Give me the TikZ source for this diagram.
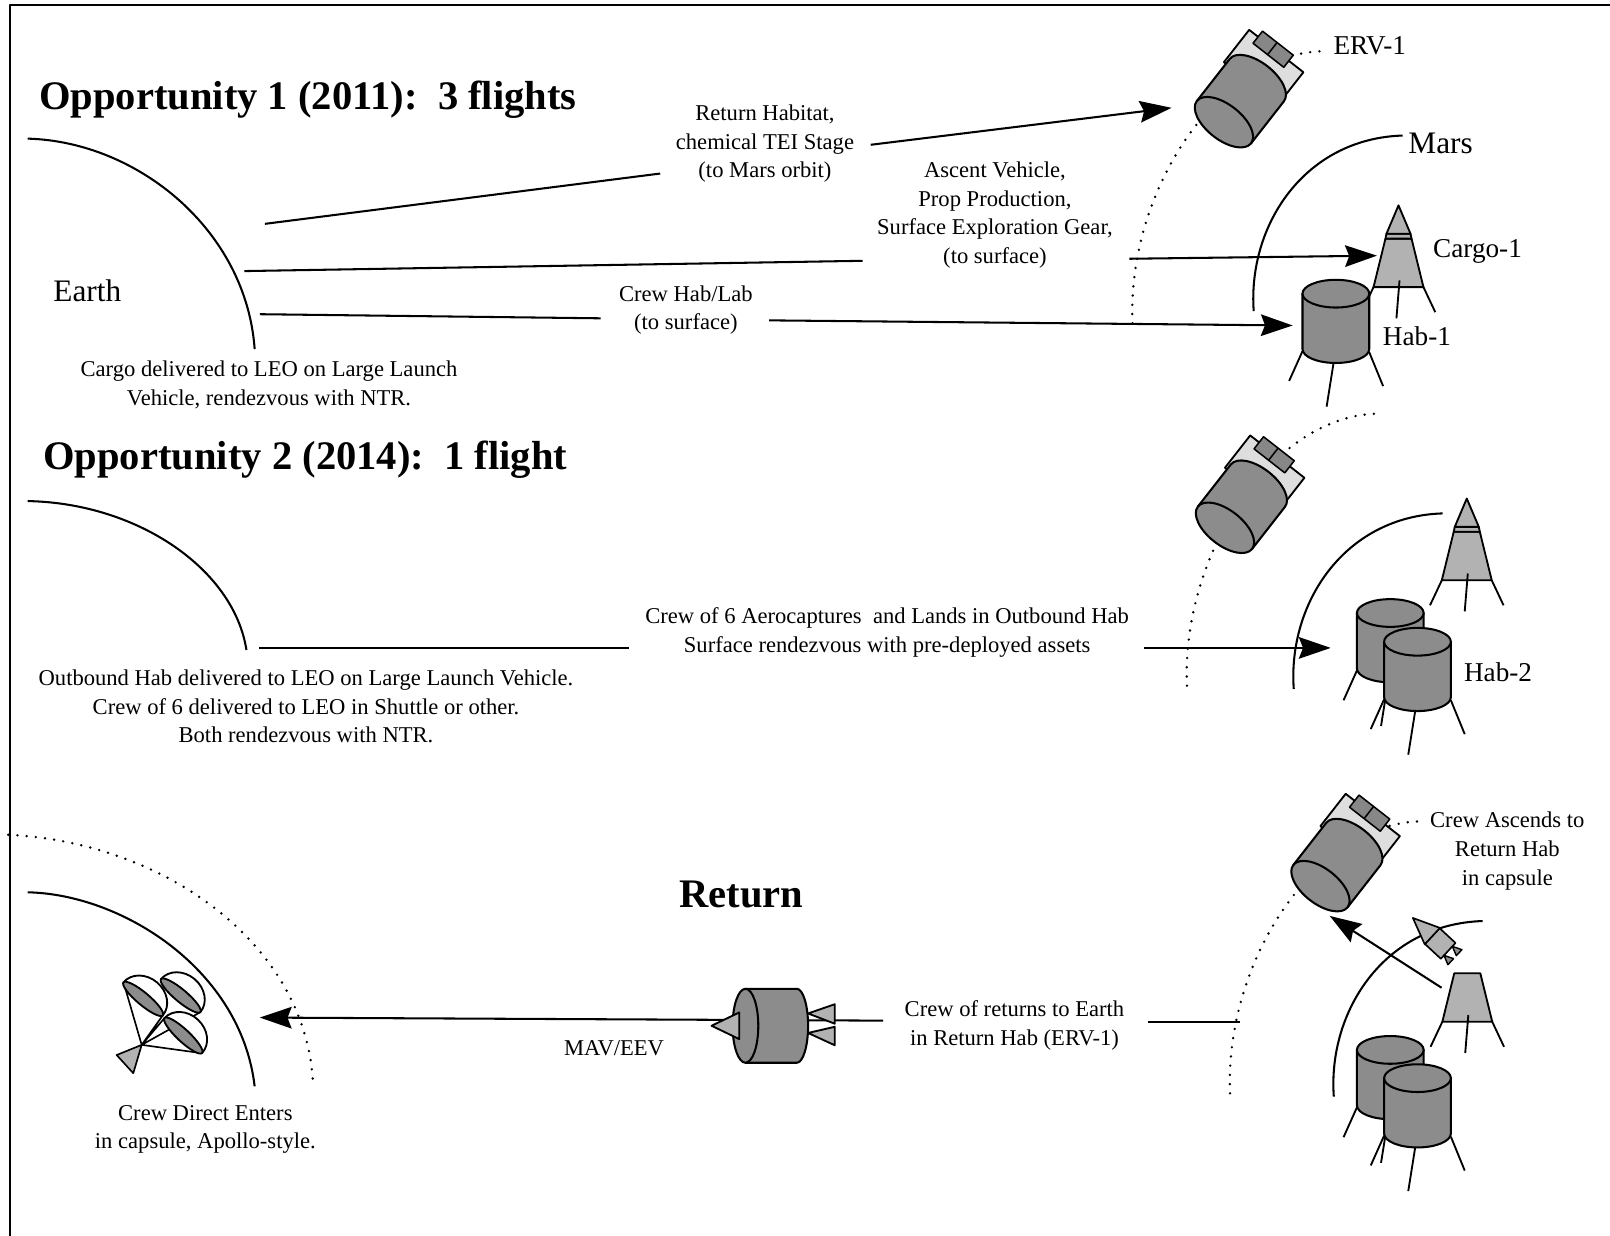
\documentclass[tikz,border=0pt]{standalone}
\usepackage{fontspec}
\setmainfont{Liberation Serif}
\usetikzlibrary{arrows.meta}
\definecolor{habgrey}{gray}{0.55}
\definecolor{cargogrey}{gray}{0.70}
\definecolor{boxgrey}{gray}{0.87}
\definecolor{panelgrey}{gray}{0.53}
\tikzset{
  habcyl/.pic={
    \draw[line width=1.8pt] (-32.5,56) -- (-45.5,85) (-2,66) -- (-9,110) (32.5,57) -- (46,90);
    \filldraw[fill=habgrey, line width=2pt] (-32.5,0) -- (-32.5,54) arc[start angle=180,end angle=0,x radius=32.5,y radius=13.5] -- (32.5,0) -- cycle;
    \filldraw[fill=habgrey, line width=2pt] (0,0) ellipse[x radius=32.5, y radius=13.5];
  },
  cargolander/.pic={
    \filldraw[fill=cargogrey, line width=1.8pt] (-12.7,32.4) -- (12.7,32.4) -- (24.3,79.6) -- (-24.3,79.6) -- cycle;
    \filldraw[fill=cargogrey, line width=1.8pt] (-11.7,27.6) -- (11.7,27.6) -- (12.7,32.4) -- (-12.7,32.4) -- cycle;
    \filldraw[fill=cargogrey, line width=1.8pt] (0,0) -- (11.7,27.6) -- (-11.7,27.6) -- cycle;
    \draw[line width=1.8pt] (-24.3,79.6) -- (-35.8,104) (1,73) -- (-2,110) (24.3,79.6) -- (35.8,104);
  },
  ascentbase/.pic={
    \filldraw[fill=cargogrey, line width=1.8pt] (-12.7,32.4) -- (12.7,32.4) -- (24.3,79.6) -- (-24.3,79.6) -- cycle;
    \draw[line width=1.8pt] (-24.3,79.6) -- (-35.8,104) (1,73) -- (-2,110) (24.3,79.6) -- (35.8,104);
  },
  ervcraft/.pic={
    \begin{scope}[rotate=52]
      \filldraw[fill=boxgrey, line width=1.8pt] (46,-36) rectangle (86,31);
      \filldraw[fill=panelgrey, line width=1.5pt] (78,-25) rectangle (93,13);
      \draw[line width=1.5pt] (78,-7) -- (93,-7);
      \filldraw[fill=habgrey, line width=2pt] (0,-33.5) -- (52,-33.5) arc[start angle=-90,end angle=90,x radius=17,y radius=33.5] -- (0,33.5) -- cycle;
      \filldraw[fill=habgrey, line width=2pt] (0,0) ellipse[x radius=17,y radius=33.5];
    \end{scope}
  },
  minicap/.pic={
    \begin{scope}[rotate=-43]
      \filldraw[fill=cargogrey, line width=1.6pt] (25.9,-10.5) rectangle (47,10.5);
      \filldraw[fill=cargogrey, line width=1.6pt] (0,0) -- (25.9,-10.9) -- (25.9,10.9) -- cycle;
      \filldraw[fill=habgrey, line width=1.4pt] (47,-6) -- (56,-10) -- (56,-2) -- cycle;
      \filldraw[fill=habgrey, line width=1.4pt] (47,6) -- (56,2) -- (56,10) -- cycle;
    \end{scope}
  },
  chute/.pic={
    \begin{scope}[rotate=-40]
      \filldraw[fill=white, line width=1.8pt] (-25,0) arc[start angle=180,end angle=360,x radius=25,y radius=21] -- cycle;
      \filldraw[fill=habgrey, line width=1.8pt] (0,0) ellipse[x radius=25,y radius=6];
    \end{scope}
  }
}
\begin{document}
\begin{tikzpicture}[x=1pt,y=-1pt, line join=round,
  conn/.style={line width=2pt},
  arr/.style={line width=2pt,-{Stealth[length=31pt,width=21pt,inset=4pt]}},
  orbit/.style={line width=2.6pt, dash pattern=on 0pt off 9pt, line cap=round},
  planet/.style={line width=2pt},
  small/.style={font=\fontsize{22}{28}\selectfont, align=center, inner sep=0pt},
  big/.style={font=\fontsize{26.5}{30}\selectfont, inner sep=0pt},
  bigger/.style={font=\fontsize{30.5}{34}\selectfont, inner sep=0pt},
  title/.style={font=\fontsize{39.5}{44}\selectfont\bfseries, inner sep=0pt}]
\useasboundingbox (0,0) rectangle (1568,1203);
\fill[white] (0,0) rectangle (1568,1203);
% frame
\draw[line width=2pt] (10,1215) -- (10,5) -- (1580,5);

% Earth arcs
\draw[planet] (27,135) .. controls (135,138) and (240,225) .. (248,340);
\draw[planet] (27,488) .. controls (135,490) and (228,555) .. (240,633);
\draw[planet] (27,869) .. controls (120,871) and (235,945) .. (248,1058);
\draw[orbit] (8,813) .. controls (160,820) and (300,920) .. (305,1058);

% Mars arcs
\draw[planet] (1366,132) .. controls (1270,135) and (1215,220) .. (1221,303);
\draw[planet] (1405,500) .. controls (1309,503) and (1254,588) .. (1260,671);
\draw[planet] (1444,897) .. controls (1348,900) and (1293,985) .. (1299,1068);

% Mars orbits (dotted)
\draw[orbit] (1285,50) .. controls (1185,55) and (1097,187) .. (1103,316);
\draw[orbit] (1338,403) .. controls (1238,408) and (1150,540) .. (1156,669);
\draw[orbit] (1380,800) .. controls (1280,805) and (1192,937) .. (1198,1066);

% text nodes
\node[title, anchor=base west] (t1) at (38,107) {Opportunity 1 (2011):\ \ 3 flights};
\node[title, anchor=base west] (t2) at (42,457) {Opportunity 2 (2014):\ \ 1 flight};
\node[title, anchor=base] (t3) at (722,884) {Return};

\node[bigger] (earth) at (85,283) {Earth};
\node[bigger] (mars) at (1403,140) {Mars};
\node[big] (erv1) at (1334,45) {ERV-1};
\node[big] (cargo1) at (1439,245) {Cargo-1};
\node[big] (hab1) at (1380,327) {Hab-1};
\node[big] (hab2) at (1459,655) {Hab-2};

\node[small] (rethab) at (745,140) {Return Habitat,\\chemical TEI Stage\\(to Mars orbit)};
\node[small] (ascent) at (969,209.5) {Ascent Vehicle,\\Prop Production,\\Surface Exploration Gear,\\(to surface)};
\node[small] (crewhab) at (668,302) {Crew Hab/Lab\\(to surface)};
\node[small] (cargoleo) at (262,375) {Cargo delivered to LEO on Large Launch\\Vehicle, rendezvous with NTR.};
\node[small] (aero) at (864,616) {Crew of 6 Aerocaptures\ \ and Lands in Outbound Hab\\Surface rendezvous with pre-deployed assets};
\node[small] (outbound) at (298,688) {Outbound Hab delivered to LEO on Large Launch Vehicle.\\Crew of 6 delivered to LEO in Shuttle or other.\\Both rendezvous with NTR.};
\node[small] (crewret) at (988,999) {Crew of returns to Earth\\in Return Hab (ERV-1)};
\node[small] (mav) at (598,1021) {MAV/EEV};
\node[small] (direct) at (200,1100) {Crew Direct Enters\\in capsule, Apollo-style.};
\node[small] (ascends) at (1468,829) {Crew Ascends to\\Return Hab\\in capsule};

% connector coordinates
\coordinate (a1s) at (258,218); \coordinate (a1m) at (643,169);
\coordinate (a1r) at (848,141); \coordinate (a1e) at (1141,105);
\coordinate (a2s) at (238,264); \coordinate (a2m) at (840,254);
\coordinate (a2r) at (1100,252); \coordinate (a2e) at (1341,249);
\coordinate (a3s) at (253,306); \coordinate (a3m) at (585,310);
\coordinate (a3r) at (749,312); \coordinate (a3e) at (1259,317);
\coordinate (b1s) at (252,631); \coordinate (b1m) at (613,631);
\coordinate (b1r) at (1114,631); \coordinate (b1e) at (1296,631);
\coordinate (c1s) at (1208,995); \coordinate (c1m) at (1118,995);
\coordinate (c1r) at (860,994); \coordinate (c1e) at (253,991);
\coordinate (c2s) at (1404,962); \coordinate (c2e) at (1295,892);

\draw[conn] (a1s) -- (a1m);
\draw[arr] (a1r) -- (a1e);
\draw[conn] (a2s) -- (a2m);
\draw[arr] (a2r) -- (a2e);
\draw[conn] (a3s) -- (a3m);
\draw[arr] (a3r) -- (a3e);
\draw[conn] (b1s) -- (b1m);
\draw[arr] (b1r) -- (b1e);
\draw[conn] (c1s) -- (c1m);
\draw[arr] (c1r) -- (c1e);
\draw[arr] (c2s) -- (c2e);

% spacecraft
\pic at (1192,119) {ervcraft};
\pic at (1193,514) {ervcraft};
\pic at (1286,863) {ervcraft};

% landers and habs
\pic at (1362,200) {cargolander};
\pic at (1301,286) {habcyl};
\pic at (1428.5,485.5) {cargolander};
\pic at (1354,597) {habcyl};
\pic at (1380.5,625) {habcyl};
\pic at (1429,915.5) {ascentbase};
\pic at (1354,1022.5) {habcyl};
\pic at (1380.5,1050) {habcyl};
\pic at (1376,894) {minicap};

% MAV/EEV
\filldraw[fill=habgrey, line width=2pt] (726,963) -- (776,963) arc[start angle=-90,end angle=90,x radius=11,y radius=36] -- (726,1035) -- cycle;
\filldraw[fill=habgrey, line width=2pt] (726,999) ellipse[x radius=12.5,y radius=36];
\filldraw[fill=cargogrey, line width=1.8pt] (693,999) -- (720,986) -- (720,1012) -- cycle;
\filldraw[fill=cargogrey, line width=1.8pt] (787,987) -- (813,978) -- (813,997) -- cycle;
\filldraw[fill=cargogrey, line width=1.8pt] (787,1006) -- (813,1000) -- (813,1018) -- cycle;

% parachutes
\coordinate (apex) at (138,1017.6);
\draw[line width=1.6pt] (apex) -- (120.3,956.7) (apex) -- (158.5,988.9) (apex) -- (160.4,991.3) (apex) -- (195.2,985.7) (apex) -- (196.6,1025.7);
\pic at (176,969.6) {chute};
\pic at (139.4,972.8) {chute};
\pic[rotate=-3] at (178.5,1008.5) {chute};
\filldraw[fill=cargogrey, line width=1.6pt] (113.6,1027.5) -- (apex) -- (129.8,1045.2) -- cycle;
\end{tikzpicture}
\end{document}
